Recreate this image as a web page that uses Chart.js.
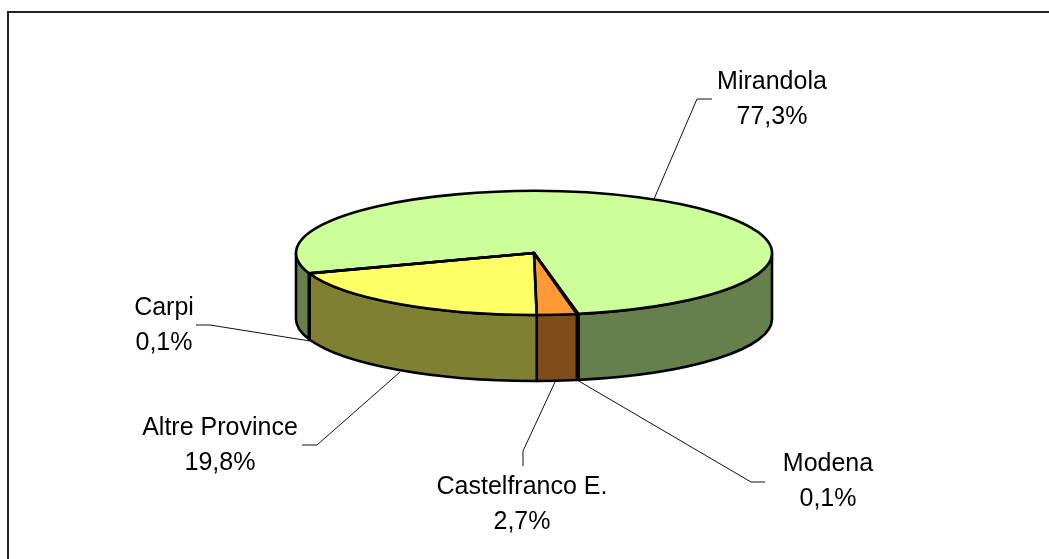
<!DOCTYPE html>
<html>
<head>
<meta charset="utf-8">
<title>Pie</title>
<script src="https://cdn.jsdelivr.net/npm/chart.js@4"></script>
<style>
  html, body { margin: 0; padding: 0; background: #fff; overflow: hidden; }
  canvas { display: block; }
</style>
</head>
<body>
<canvas id="pie" width="1049" height="559"></canvas>
<script>
const categories = ["Mirandola", "Modena", "Castelfranco E.", "Altre Province", "Carpi"];
const percentages = [77.3, 0.1, 2.7, 19.8, 0.1];
const topColors = ["#ccff99", "#3366cc", "#ff9933", "#ffff66", "#333399"];
const sideColors = ["#66804d", "#1a3366", "#804d1a", "#808033", "#1a1a4d"];

// callouts: text centre + baseline of first line, then the leader polyline
const callouts = [
  { x: 772, y: 89, leader: [[712, 99], [697, 99], [654, 199]] },
  { x: 828, y: 471, leader: [[765, 482], [751, 482], [577, 380]] },
  { x: 522, y: 494, leader: [[523, 466], [523, 451], [555, 382]] },
  { x: 220, y: 435, leader: [[302, 445], [317, 445], [400, 372]] },
  { x: 164, y: 315, leader: [[196, 325], [210, 325], [310, 341]] }
];

const squash = 62 / 238;
const depth = 66;
const outline = 2.6;

function formatPct(v) {
  return v.toFixed(1).replace(".", ",") + "%";
}

// the piece of [a, b] that lies on the front half of the pie, can be two pieces
function frontParts(a, b) {
  const parts = [];
  for (let k = -2; k <= 2; k++) {
    const s = Math.max(a, k * 2 * Math.PI);
    const e = Math.min(b, k * 2 * Math.PI + Math.PI);
    if (e > s) parts.push([s, e]);
  }
  return parts;
}

const pie3d = {
  id: "pie3d",
  beforeDraw(chart) {
    const ctx = chart.ctx;
    ctx.save();
    ctx.strokeStyle = "#222";
    ctx.lineWidth = 2;
    ctx.beginPath();
    ctx.moveTo(8, 559);
    ctx.lineTo(8, 12);
    ctx.lineTo(1049, 12);
    ctx.stroke();
    ctx.restore();
  },
  beforeDatasetsDraw(chart) {
    const ctx = chart.ctx;
    const arcs = chart.getDatasetMeta(0).data;
    ctx.save();
    ctx.strokeStyle = "#000";
    ctx.lineWidth = outline;
    ctx.lineJoin = "round";
    arcs.forEach((arc, i) => {
      const rx = arc.outerRadius;
      const ry = rx * squash;
      frontParts(arc.startAngle, arc.endAngle).forEach(([s, e]) => {
        ctx.beginPath();
        ctx.ellipse(arc.x, arc.y, rx, ry, 0, s, e);
        ctx.ellipse(arc.x, arc.y + depth, rx, ry, 0, e, s, true);
        ctx.closePath();
        ctx.fillStyle = sideColors[i];
        ctx.fill();
        ctx.stroke();
      });
    });
    ctx.restore();

    // flatten the library's own arcs to the ellipse
    const first = arcs[0];
    ctx.save();
    ctx.translate(first.x, first.y);
    ctx.scale(1, squash);
    ctx.translate(-first.x, -first.y);
  },
  afterDatasetsDraw(chart) {
    const ctx = chart.ctx;
    ctx.restore();

    const arcs = chart.getDatasetMeta(0).data;
    ctx.save();
    ctx.strokeStyle = "#000";
    ctx.lineWidth = outline;
    ctx.lineJoin = "round";
    arcs.forEach(arc => {
      ctx.beginPath();
      ctx.moveTo(arc.x, arc.y);
      ctx.ellipse(arc.x, arc.y, arc.outerRadius, arc.outerRadius * squash, 0, arc.startAngle, arc.endAngle);
      ctx.closePath();
      ctx.stroke();
    });
    ctx.restore();

    // labels
    ctx.save();
    ctx.fillStyle = "#000";
    ctx.font = "25px 'Liberation Sans'";
    ctx.textAlign = "center";
    ctx.textBaseline = "alphabetic";
    categories.forEach((name, i) => {
      const c = callouts[i];
      ctx.fillText(name, c.x, c.y);
      ctx.fillText(formatPct(percentages[i]), c.x, c.y + 35);
      ctx.beginPath();
      c.leader.forEach((p, n) => (n ? ctx.lineTo(p[0], p[1]) : ctx.moveTo(p[0], p[1])));
      ctx.strokeStyle = "#111";
      ctx.lineWidth = 1;
      ctx.stroke();
    });
    ctx.restore();
  }
};

new Chart(document.getElementById("pie").getContext("2d"), {
  type: "pie",
  data: {
    labels: categories,
    datasets: [
      {
        data: percentages,
        backgroundColor: topColors,
        borderWidth: 0
      }
    ]
  },
  options: {
    responsive: false,
    animation: false,
    rotation: 250.98,
    layout: { padding: { left: 296, right: 277, top: 15, bottom: 68 } },
    plugins: { legend: { display: false }, tooltip: { enabled: false }, title: { display: false } }
  },
  plugins: [pie3d]
});
</script>
</body>
</html>
